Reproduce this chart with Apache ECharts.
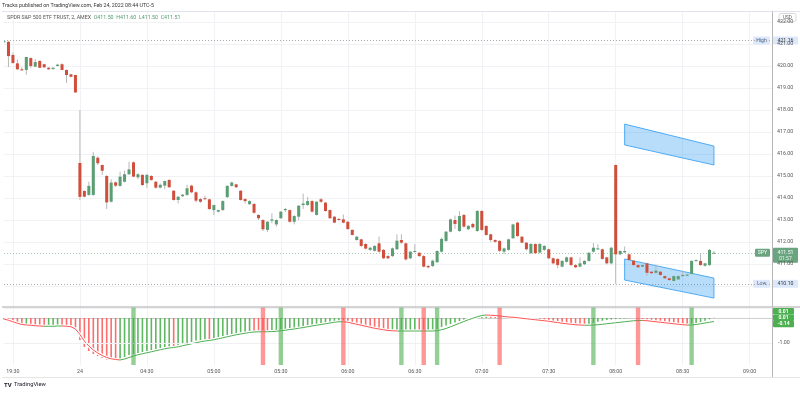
<!DOCTYPE html>
<html><head><meta charset="utf-8">
<script src="https://cdn.jsdelivr.net/npm/echarts@6/dist/echarts.min.js"></script>
<style>html,body{margin:0;padding:0;background:#fff}#c{width:800px;height:393px}</style>
</head><body><div id="c"></div>
<script>
// ---------- DATA ----------
const openP = [421.08,421.10,420.50,420.12,419.85,419.82,420.36,419.97,420.23,420.08,
419.92,419.86,420.00,420.08,419.82,419.62,419.59,415.59,414.32,414.14,
414.14,415.83,415.50,415.00,413.83,414.71,414.55,414.74,415.08,415.62,
414.94,415.05,414.67,415.00,414.74,414.47,414.56,414.82,414.33,413.91,
414.08,414.14,414.56,414.26,413.95,413.99,413.94,413.45,413.38,413.45,
414.04,414.55,414.62,414.33,413.95,413.72,413.73,413.23,413.00,412.55,
412.97,412.80,413.08,413.45,413.45,412.92,413.15,413.68,413.68,413.86,
413.23,413.94,413.79,413.45,413.15,413.05,413.03,412.92,412.55,412.09,
412.12,411.91,411.64,411.60,411.94,411.64,411.36,411.36,411.67,412.09,
411.94,411.26,411.58,411.51,411.36,410.91,410.91,411.08,411.56,412.05,
412.47,413.00,412.50,413.23,412.58,412.82,412.50,413.41,412.73,412.35,
412.09,412.05,411.56,411.64,412.17,412.88,412.24,411.97,411.49,411.91,
411.52,411.64,411.67,411.26,411.23,410.88,411.10,411.30,410.95,410.88,
410.99,411.14,411.56,411.67,411.67,411.30,411.03,415.50,411.44,411.53,
411.44,411.15,410.95,410.88,411.03,410.65,410.60,410.65,410.45,410.35,
410.23,410.30,410.45,410.47,410.55,411.14,411.14,410.92,410.95,411.50];
const highP = [421.16,421.14,420.62,420.30,419.95,420.42,420.40,420.32,420.25,420.10,
419.95,419.94,420.10,420.12,419.84,419.64,419.60,418.00,414.35,414.74,
416.10,415.90,415.52,415.05,414.85,414.75,415.20,415.25,415.65,415.66,
415.12,415.08,415.10,415.04,414.76,414.66,414.80,414.86,414.35,414.08,
414.18,414.60,414.60,414.30,414.00,414.10,413.96,413.70,413.48,413.90,
414.58,414.75,414.65,414.36,414.00,413.90,413.76,413.26,413.03,412.95,
413.30,413.03,413.40,413.55,413.48,413.22,413.68,414.20,414.05,413.90,
413.86,414.00,413.82,413.48,413.18,413.08,413.25,412.95,412.58,412.28,
412.15,411.95,411.78,411.86,412.25,411.68,411.40,411.75,412.35,412.35,
411.98,411.60,411.90,411.55,411.40,410.95,411.20,411.62,412.20,412.50,
413.06,413.20,413.40,413.27,412.78,412.88,413.45,413.45,412.76,412.38,
412.12,412.08,411.75,412.15,412.83,412.92,412.27,412.00,411.95,411.94,
411.95,411.86,411.70,411.30,411.26,411.18,411.34,411.33,411.00,411.30,
411.17,411.55,411.95,411.90,411.70,411.33,411.78,415.52,411.62,411.80,
411.47,411.18,410.98,410.98,411.06,410.68,410.98,410.68,410.48,410.38,
410.48,410.48,410.70,410.55,411.17,411.20,411.45,411.06,411.68,411.60];
const lowP = [421.05,419.95,420.10,419.82,419.78,419.60,419.90,419.95,419.90,419.92,
419.83,419.84,419.98,419.80,419.23,419.49,418.78,413.91,414.03,414.10,
414.10,415.50,415.05,413.50,413.80,414.50,414.52,414.70,415.05,414.95,
414.85,414.55,414.45,414.78,414.42,414.44,414.40,414.45,413.88,413.75,
414.05,414.10,414.22,413.80,413.78,413.90,413.45,413.22,413.34,413.42,
414.00,414.52,414.45,413.88,413.75,413.68,413.28,413.00,412.50,412.45,
412.85,412.70,413.05,413.35,412.88,412.80,413.00,413.50,413.65,413.34,
413.20,413.78,413.38,413.05,412.85,412.97,412.85,412.55,412.30,412.06,
411.78,411.66,411.60,411.56,411.52,411.22,411.22,411.32,411.64,411.92,
411.15,411.22,411.52,411.32,410.84,410.80,410.86,411.05,411.52,412.00,
412.44,412.60,412.46,412.65,412.55,412.62,412.46,412.50,412.28,412.00,
411.97,411.55,411.45,411.60,412.14,412.24,411.94,411.62,411.45,411.46,
411.48,411.60,411.22,410.98,410.80,410.85,411.06,410.92,410.82,410.85,
410.95,411.10,411.52,411.64,411.20,410.98,410.98,410.10,411.40,411.50,
411.15,410.92,410.82,410.85,410.45,410.55,410.57,410.47,410.32,410.24,
410.20,410.27,410.43,410.45,410.52,411.10,410.92,410.88,410.92,411.50];
const closeP = [421.12,420.45,420.14,419.85,419.82,420.41,420.00,420.18,419.92,419.94,
419.85,419.92,420.06,419.82,419.59,419.51,418.80,414.05,414.06,414.55,
415.91,415.58,415.24,413.80,414.70,414.56,414.97,415.08,415.30,414.97,
415.08,414.59,415.05,414.82,414.47,414.60,414.77,414.49,413.91,414.06,
414.15,414.44,414.26,413.88,413.83,413.95,413.50,413.68,413.45,413.86,
414.55,414.70,414.49,413.91,413.86,413.86,413.33,413.08,412.58,412.92,
413.03,413.00,413.38,413.50,412.92,413.18,413.65,413.75,413.86,413.38,
413.83,413.83,413.41,413.08,412.88,413.00,412.88,412.59,412.32,412.24,
411.82,411.70,411.74,411.82,411.56,411.26,411.26,411.71,412.06,411.97,
411.21,411.56,411.59,411.36,410.88,410.85,411.15,411.59,412.14,412.47,
413.03,412.82,413.18,412.70,412.73,412.67,413.41,412.55,412.32,412.09,
412.01,411.60,411.71,412.12,412.80,412.27,411.97,411.67,411.91,411.49,
411.91,411.82,411.26,411.03,410.95,411.14,411.30,410.95,410.85,411.03,
411.14,411.51,411.74,411.71,411.23,411.03,411.74,411.44,411.59,411.59,
411.18,410.95,410.85,410.95,410.60,410.58,410.70,410.50,410.35,410.27,
410.45,410.45,410.50,410.52,411.14,411.18,410.95,411.03,411.64,411.51];

const histVals = [-0.06,-0.12,-0.18,-0.24,-0.29,-0.27,-0.30,-0.32,-0.33,-0.34,
-0.33,-0.32,-0.31,-0.33,-0.34,-0.36,-0.52,-0.88,-1.16,-1.32,
-1.44,-1.52,-1.60,-1.66,-1.68,-1.69,-1.64,-1.56,-1.48,-1.44,
-1.40,-1.36,-1.32,-1.28,-1.24,-1.20,-1.17,-1.14,-1.16,-1.08,
-1.04,-1.00,-0.96,-0.90,-0.88,-0.85,-0.87,-0.80,-0.76,-0.72,
-0.68,-0.64,-0.61,-0.58,-0.55,-0.52,-0.53,-0.54,-0.55,-0.56,
-0.52,-0.50,-0.47,-0.45,-0.42,-0.40,-0.37,-0.34,-0.31,-0.28,
-0.25,-0.22,-0.19,-0.16,-0.14,-0.12,-0.18,-0.22,-0.27,-0.31,
-0.35,-0.39,-0.43,-0.46,-0.49,-0.52,-0.53,-0.52,-0.51,-0.50,
-0.49,-0.48,-0.47,-0.48,-0.50,-0.49,-0.47,-0.44,-0.36,-0.30,
-0.24,-0.18,-0.12,-0.07,-0.02,0.04,0.10,0.14,0.15,0.12,
0.09,0.06,0.04,0.02,0.01,0.00,-0.02,-0.04,-0.06,-0.08,
-0.11,-0.14,-0.17,-0.20,-0.22,-0.24,-0.26,-0.28,-0.30,-0.31,
-0.32,-0.25,-0.20,-0.15,-0.11,-0.08,-0.06,-0.04,-0.03,-0.02,
-0.01,0.00,-0.02,-0.07,-0.10,-0.13,-0.16,-0.19,-0.22,-0.25,
-0.27,-0.29,-0.30,-0.31,-0.27,-0.22,-0.17,-0.11,-0.05,0.01];
const signalVals = [-0.04,-0.09,-0.15,-0.21,-0.26,-0.28,-0.29,-0.31,-0.32,-0.33,
-0.33,-0.33,-0.32,-0.32,-0.33,-0.35,-0.44,-0.66,-0.92,-1.12,
-1.28,-1.40,-1.50,-1.58,-1.63,-1.66,-1.68,-1.64,-1.58,-1.52,
-1.47,-1.43,-1.39,-1.35,-1.31,-1.27,-1.23,-1.20,-1.18,-1.15,
-1.11,-1.07,-1.03,-0.99,-0.95,-0.92,-0.90,-0.87,-0.83,-0.79,
-0.75,-0.71,-0.67,-0.64,-0.61,-0.58,-0.56,-0.55,-0.55,-0.55,
-0.54,-0.53,-0.51,-0.49,-0.46,-0.44,-0.41,-0.38,-0.35,-0.32,
-0.29,-0.26,-0.23,-0.20,-0.17,-0.15,-0.15,-0.17,-0.21,-0.25,
-0.29,-0.33,-0.37,-0.41,-0.44,-0.47,-0.50,-0.51,-0.52,-0.52,
-0.52,-0.52,-0.52,-0.52,-0.52,-0.52,-0.52,-0.51,-0.47,-0.42,
-0.35,-0.28,-0.21,-0.14,-0.07,-0.01,0.05,0.10,0.12,0.11,
0.10,0.08,0.06,0.04,0.03,0.01,-0.01,-0.03,-0.05,-0.07,
-0.09,-0.11,-0.13,-0.16,-0.18,-0.21,-0.23,-0.25,-0.27,-0.28,
-0.29,-0.29,-0.28,-0.27,-0.25,-0.23,-0.21,-0.19,-0.17,-0.15,
-0.13,-0.11,-0.10,-0.10,-0.11,-0.13,-0.15,-0.17,-0.19,-0.21,
-0.23,-0.25,-0.27,-0.28,-0.28,-0.26,-0.23,-0.20,-0.17,-0.14];

const greenSignalBars = [29, 62, 89, 97, 132, 154];
const redSignalBars = [58, 76, 94, 111, 142];

// channels: [xStart, topStart, botStart, xEnd, topEnd, botEnd]
const channelUpper = [139, 417.36, 416.41, 159, 416.36, 415.50];
const channelLower = [139, 411.23, 410.27, 159, 410.36, 409.45];

const tickTimes = ['19:30','04:00','04:30','05:00','05:30','06:00','06:30','07:00','07:30','08:00','08:30','09:00'];
const tickTexts = ['19:30','24','04:30','05:00','05:30','06:00','06:30','07:00','07:30','08:00','08:30','09:00'];
const hiddenPriceLabels = [410];

// ---------- AXIS CATEGORIES (2-minute bars) ----------
function fmt(m){ const h=Math.floor(m/60)%24, mm=m%60; return (h<10?'0':'')+h+':'+(mm<10?'0':'')+mm; }
const times = [];
for (let k=0;k<17;k++) times.push(fmt(19*60+26+2*k));
for (let k=0;k<156;k++) times.push(fmt(4*60+2*k));
const tickMap = {}; tickTimes.forEach((t,i)=>tickMap[t]=tickTexts[i]);
const isTick = (idx, val) => tickMap[val] !== undefined;

const GREEN='#5b9e74', RED='#cf4f3c';
const HG='rgba(76,175,80,0.9)', HR='rgba(255,82,82,0.85)';
const FONT='Roboto';

const candleData = openP.map((o,i)=>[i, o, closeP[i], lowP[i], highP[i]]);
const histData = histVals.map((v,i)=>({value:v, itemStyle:{color:(i===0||v>=histVals[i-1])?HG:HR}}));
const sigUp = signalVals.map(()=>null), sigDn = signalVals.map(()=>null);
for (let i=1;i<signalVals.length;i++){
  const arr = signalVals[i]>=signalVals[i-1]?sigUp:sigDn;
  arr[i-1]=signalVals[i-1]; arr[i]=signalVals[i];
}
const hlGreen = times.map((t,i)=>greenSignalBars.includes(i)?1:null);
const hlRed = times.map((t,i)=>redSignalBars.includes(i)?1:null);

const hiVal = Math.max(...highP), loVal = Math.min(...lowP);
const n = closeP.length-1;
const lastO=openP[n], lastH=highP[n], lastL=lowP[n], lastC=closeP[n];

const chart = echarts.init(document.getElementById('c'), null, {renderer:'canvas'});
const gridLine = {show:true, lineStyle:{color:'#f0f2f6', width:1}};

function channelSeries(ch){
  return {type:'custom', xAxisIndex:0, yAxisIndex:0, z:5, silent:true,
    data:[ch],
    renderItem:(params, api)=>{
      const p1=api.coord([ch[0],ch[1]]), p2=api.coord([ch[3],ch[4]]), p3=api.coord([ch[3],ch[5]]), p4=api.coord([ch[0],ch[2]]);
      return {type:'polygon', shape:{points:[p1,p2,p3,p4]}, style:{fill:'rgba(33,150,243,0.32)', stroke:'rgba(33,150,243,0.75)', lineWidth:1}};
    }};
}

chart.setOption({
  animation:false,
  backgroundColor:'#ffffff',
  grid:[
    {left:4, right:28, top:11, height:297},
    {left:4, right:28, top:307, height:58}
  ],
  xAxis:[
    {type:'category', gridIndex:0, data:times, boundaryGap:false,
     axisLine:{show:false}, axisTick:{show:false}, axisLabel:{show:false},
     splitLine:{show:true, interval:isTick, lineStyle:{color:'#f0f2f6'}}},
    {type:'category', gridIndex:1, data:times, boundaryGap:false,
     axisLine:{show:true, lineStyle:{color:'#cfcfcf'}}, axisTick:{show:false},
     axisLabel:{show:true, interval:isTick, formatter:v=>tickMap[v]||'', fontSize:5.3, fontFamily:FONT, color:'#555', margin:4},
     splitLine:{show:true, interval:isTick, lineStyle:{color:'#f0f2f6'}}},
    {type:'category', gridIndex:1, data:times, boundaryGap:false, show:false}
  ],
  yAxis:[
    {type:'value', gridIndex:0, position:'right', min:409, max:422.5, interval:1, scale:true,
     axisLine:{show:true, lineStyle:{color:'#b5b5b5'}}, axisTick:{show:false},
     axisLabel:{fontSize:5.3, fontFamily:FONT, color:'#555', margin:5,
       formatter:v=>(Math.abs(v-Math.round(v))<1e-6 && v>=410 && v<=422 && !hiddenPriceLabels.includes(Math.round(v)))?v.toFixed(2):''},
     splitLine:gridLine},
    {type:'value', gridIndex:1, position:'right', min:-1.88, max:0.44,
     axisLine:{show:true, lineStyle:{color:'#b5b5b5'}}, axisTick:{show:false},
     axisLabel:{show:false}, splitLine:{show:false}},
    {type:'value', gridIndex:1, min:0, max:1, show:false}
  ],
  series:[
    {type:'line', xAxisIndex:0, yAxisIndex:0, data:closeP, showSymbol:false, silent:true,
     lineStyle:{opacity:0}, z:1,
     markLine:{silent:true, symbol:'none', label:{show:false},
       data:[
         {yAxis:hiVal, lineStyle:{color:'#a8a8a8', type:[1,2], width:1}},
         {yAxis:loVal, lineStyle:{color:'#a8a8a8', type:[1,2], width:1}},
         {yAxis:lastC, lineStyle:{color:'#6aa57f', type:[1,2], width:1, opacity:0.6}}
       ]}},
    channelSeries(channelUpper),
    channelSeries(channelLower),
    {type:'custom', xAxisIndex:0, yAxisIndex:0, z:10, clip:true,
     data:candleData, encode:{x:0, y:[1,2,3,4]},
     renderItem:(params, api)=>{
       const i=api.value(0), o=api.value(1), c=api.value(2), l=api.value(3), h=api.value(4);
       const po=api.coord([i,o]), pc=api.coord([i,c]), pl=api.coord([i,l]), ph=api.coord([i,h]);
       const w=api.size([1,0])[0]*0.68;
       const top=Math.min(po[1],pc[1]); const bh=Math.max(Math.abs(po[1]-pc[1]),1);
       return {type:'group', children:[
         {type:'line', shape:{x1:po[0], y1:ph[1], x2:po[0], y2:pl[1]}, style:{stroke:'#b8b8b8', lineWidth:1}},
         {type:'rect', shape:{x:po[0]-w/2, y:top, width:w, height:bh}, style:{fill:c>=o?GREEN:RED}}
       ]};
     }},
    {type:'bar', xAxisIndex:1, yAxisIndex:1, data:histData, barWidth:1.6, z:2,
     markLine:{silent:true, symbol:'none',
       label:{show:true, position:'end', formatter:'-1.00', fontSize:5.3, fontFamily:FONT, color:'#555', distance:6},
       lineStyle:{color:'#eef0f4', type:'solid', width:1},
       data:[{yAxis:-1}]}},
    {type:'line', xAxisIndex:1, yAxisIndex:1, data:signalVals, showSymbol:false, silent:true,
     lineStyle:{color:'#ffffff', width:3.2}, z:3},
    {type:'line', xAxisIndex:1, yAxisIndex:1, data:sigUp, showSymbol:false, silent:true, connectNulls:false,
     lineStyle:{color:'#4caf50', width:1}, z:4},
    {type:'line', xAxisIndex:1, yAxisIndex:1, data:sigDn, showSymbol:false, silent:true, connectNulls:false,
     lineStyle:{color:'#ff5252', width:1}, z:4},
    {type:'bar', xAxisIndex:2, yAxisIndex:2, data:hlGreen, barWidth:4.4, barGap:'-100%', z:5,
     itemStyle:{color:'rgba(76,175,80,0.6)'}},
    {type:'bar', xAxisIndex:2, yAxisIndex:2, data:hlRed, barWidth:4.4, barGap:'-100%', z:5,
     itemStyle:{color:'rgba(255,82,82,0.6)'}}
  ]
});

// ---------- Text & tags ----------
function txt(x, y, s, size, color, align, weight){
  return {type:'text', x:x, y:y, z:100, style:{text:s, fill:color, fontSize:size, fontFamily:FONT, fontWeight:weight||'normal', textAlign:align||'left', textVerticalAlign:'middle'}};
}
function box(x, yc, w, h, s, bg, fg, size, weight){
  return {type:'group', z:100, children:[
    {type:'rect', shape:{x:x, y:yc-h/2, width:w, height:h, r:1}, style:{fill:bg}},
    {type:'text', x:x+w/2, y:yc, style:{text:s, fill:fg, fontSize:size||5.2, fontFamily:FONT, fontWeight:weight||'normal', textAlign:'center', textVerticalAlign:'middle'}}
  ]};
}
const yHi = chart.convertToPixel({yAxisIndex:0}, hiVal);
const yLo = chart.convertToPixel({yAxisIndex:0}, loVal);
const yLast = chart.convertToPixel({yAxisIndex:0}, lastC);
const yHist = chart.convertToPixel({yAxisIndex:1}, histVals[n]);
const ySig = chart.convertToPixel({yAxisIndex:1}, signalVals[n]);
const BLUE='#dde9fb';
const graphics = [
  {type:'line', z:90, shape:{x1:2, y1:11.5, x2:800, y2:11.5}, style:{stroke:'#e0e3eb', lineWidth:1}},
  {type:'line', z:90, shape:{x1:2, y1:307, x2:800, y2:307}, style:{stroke:'#c4c4c4', lineWidth:1.5}},
  {type:'line', z:90, shape:{x1:2, y1:377.5, x2:800, y2:377.5}, style:{stroke:'#e6e6e6', lineWidth:1}},
  {type:'line', z:90, shape:{x1:772.5, y1:365, x2:772.5, y2:377}, style:{stroke:'#b5b5b5', lineWidth:1}},
  txt(2, 6, 'Tracks published on TradingView.com, Feb 24, 2022 08:44 UTC-5', 5.3, '#333'),
  {type:'text', x:7, y:18, z:100, style:{
     text:'SPDR S&P 500 ETF TRUST, 2, AMEX  {g|O'+lastO.toFixed(2)+'  H'+lastH.toFixed(2)+'  L'+lastL.toFixed(2)+'  C'+lastC.toFixed(2)+'}',
     fill:'#555', fontSize:5.3, fontFamily:FONT, textVerticalAlign:'middle',
     rich:{g:{fill:'#4f9a6c', fontSize:5.3, fontFamily:FONT}}}},
  {type:'group', z:100, children:[
    {type:'rect', shape:{x:779, y:13.5, width:17, height:8, r:2}, style:{fill:'#fff', stroke:'#cfcfcf', lineWidth:0.8}},
    {type:'text', x:787.5, y:17.5, style:{text:'USD', fill:'#555', fontSize:4.6, fontFamily:FONT, textAlign:'center', textVerticalAlign:'middle'}}
  ]},
  box(753, yHi, 17, 8, 'High', BLUE, '#4a5f80'),
  box(773, yHi, 25, 8, hiVal.toFixed(2), BLUE, '#333'),
  box(753, yLo, 17, 8, 'Low', BLUE, '#4a5f80'),
  box(773, yLo, 25, 8, loVal.toFixed(2), BLUE, '#333'),
  box(755, yLast, 15, 8, 'SPY', '#6aa57f', '#fff'),
  {type:'group', z:100, children:[
    {type:'rect', shape:{x:773, y:yLast-5, width:25, height:15, r:1}, style:{fill:'#6aa57f'}},
    {type:'text', x:785.5, y:yLast-0.5, style:{text:lastC.toFixed(2), fill:'#fff', fontSize:5.2, fontFamily:FONT, textAlign:'center', textVerticalAlign:'middle'}},
    {type:'text', x:785.5, y:yLast+5.5, style:{text:'01:57', fill:'#e8f3ec', fontSize:5.0, fontFamily:FONT, textAlign:'center', textVerticalAlign:'middle'}}
  ]},
  box(773, yHist-6.5, 21, 6.5, histVals[n].toFixed(2), '#4caf50', '#fff', 5, 'bold'),
  box(773, yHist, 21, 6.5, histVals[n].toFixed(2), '#4caf50', '#fff', 5, 'bold'),
  box(773, ySig+2.5, 21, 6.5, signalVals[n].toFixed(2), '#4caf50', '#fff', 5, 'bold'),
  txt(4, 385, 'TV', 6, '#131722', 'left', 'bold'),
  txt(14, 385, 'TradingView', 5.8, '#131722')
];
chart.setOption({graphic:graphics});
</script>
</body></html>
